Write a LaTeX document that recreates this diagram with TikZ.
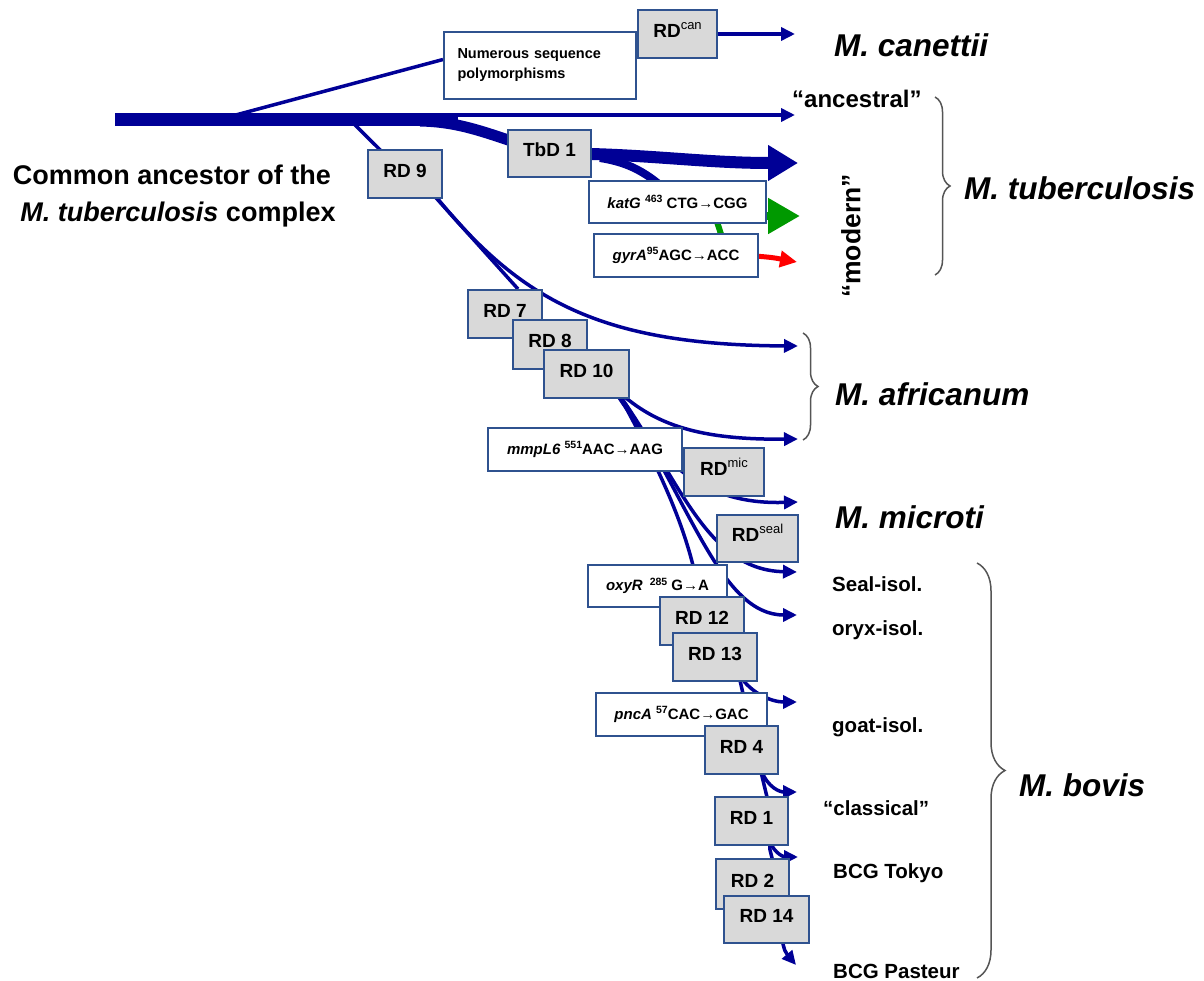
\documentclass[tikz,border=0pt]{standalone}
\usepackage{fontspec}
\setmainfont{Liberation Sans}
\usetikzlibrary{arrows.meta,decorations.pathreplacing}
\pgfdeclarelayer{bg}
\pgfsetlayers{bg,main}
\definecolor{lin}{RGB}{0,0,150}
\definecolor{bord}{RGB}{47,82,143}
\definecolor{boxfill}{RGB}{217,217,217}
\definecolor{grn}{RGB}{0,153,0}
\definecolor{bracec}{RGB}{85,85,85}
\newcommand\mysup[1]{\raisebox{5.5pt}{\fontsize{10.5}{10.5}\selectfont #1}}
\newcommand\rdsup[1]{\raisebox{8pt}{\fontsize{13}{13}\selectfont\mdseries #1}}
\begin{document}
\begin{tikzpicture}[x=1pt,y=-1pt,
 rdbox/.style={draw=bord,fill=boxfill,line width=2pt,inner sep=0pt,minimum width=#1,minimum height=48pt,text height=13.7pt,text depth=7pt,font=\fontsize{19}{19}\selectfont\bfseries},
 mbox/.style={draw=bord,fill=white,line width=2pt,inner sep=0pt,minimum width=#1,minimum height=43pt,font=\fontsize{15}{15}\selectfont\bfseries},
 br/.style={draw=lin,line width=3.5pt},
 sa/.style={-{Triangle[length=14pt,width=13pt]}},
 spec/.style={font=\fontsize{31.5}{31.5}\selectfont\bfseries\itshape,anchor=base west,inner sep=0pt},
 isol/.style={font=\fontsize{20.5}{20.5}\selectfont\bfseries,anchor=base west,inner sep=0pt},
 qlbl/.style={font=\fontsize{24}{24}\selectfont\bfseries,inner sep=0pt},
 anc/.style={font=\fontsize{27}{27}\selectfont\bfseries,anchor=base,inner sep=0pt},
 brc/.style={draw=bracec,line width=1.5pt,decorate},
]
\useasboundingbox (0,0) rectangle (1204,981);

% boxes
\node[mbox=192pt,minimum height=67pt,align=left,text width=165pt,font=\fontsize{14.5}{20}\selectfont\bfseries] (numer) at (540,65.5) {Numerous sequence\\polymorphisms};
\node[rdbox=79pt] (rdcan) at (677.5,34) {RD\rdsup{can}};
\node[rdbox=74pt] (rd9) at (405,174.5) {RD 9};
\node[rdbox=83pt,minimum height=47pt] (tbd1) at (549.5,153.5) {TbD 1};
\node[mbox=177pt,minimum height=42pt] (katg) at (677.5,202) {\textit{katG} \mysup{463} CTG→CGG};
\node[mbox=164pt] (gyra) at (676,255.5) {\textit{gyrA}\mysup{95}AGC→ACC};
\node[rdbox=74pt] (rd7) at (505,314) {RD 7};
\node[rdbox=74pt] (rd8) at (550,344.5) {RD 8};
\node[rdbox=85pt] (rd10) at (586.5,374) {RD 10};
\node[mbox=194pt] (mmpl6) at (585,449.5) {\textit{mmpL6} \mysup{551}AAC→AAG};
\node[rdbox=80pt] (rdmic) at (724,472) {RD\rdsup{mic}};
\node[rdbox=81pt,minimum height=47pt] (rdseal) at (757.5,538.5) {RD\rdsup{seal}};
\node[mbox=139pt,minimum height=42pt] (oxyr) at (657.5,586) {\textit{oxyR}\hspace{7pt}\mysup{285} G→A};
\node[rdbox=84pt] (rd12) at (702,621) {RD 12};
\node[rdbox=84pt] (rd13) at (715,657) {RD 13};
\node[mbox=171pt] (pnca) at (681.5,714.5) {\textit{pncA} \mysup{57}CAC→GAC};
\node[rdbox=73pt] (rd4) at (741.5,750) {RD 4};
\node[rdbox=73pt] (rd1) at (751.5,821) {RD 1};
\node[rdbox=73pt,minimum height=50pt] (rd2) at (752.5,884) {RD 2};
\node[rdbox=85pt,minimum height=47pt] (rd14) at (766.5,919.5) {RD 14};

% labels
\node[anc] (anc1) at (172,185) {Common ancestor of the};
\node[anc] (anc2) at (178,222) {\textit{M. tuberculosis} complex};
\node[spec] (lcan) at (834,57) {M. canettii};
\node[qlbl,anchor=base west] (lanc) at (792,108) {“ancestral”};
\node[spec] (ltb) at (964,200) {M. tuberculosis};
\node[qlbl,rotate=90,font=\fontsize{26.5}{26.5}\selectfont\bfseries] (lmod) at (851,236) {“modern”};
\node[spec] (laf) at (835,405) {M. africanum};
\node[spec] (lmic) at (835,528) {M. microti};
\node[isol] (lseal) at (832,591) {Seal-isol.};
\node[isol] (loryx) at (832,635) {oryx-isol.};
\node[isol] (lgoat) at (832,732) {goat-isol.};
\node[isol] (lclass) at (823,815) {“classical”};
\node[isol] (ltok) at (833,878) {BCG Tokyo};
\node[isol] (lpast) at (833,978) {BCG Pasteur};
\node[spec] (lbov) at (1019,796) {M. bovis};

% coordinates
\coordinate (root) at (115,120);
\coordinate (trunkend) at (458,120);
\coordinate (bcan) at (232,116);
\coordinate (banc) at (440,115);
\coordinate (bmod) at (420,121);
\coordinate (bkat) at (600,158);
\coordinate (b9) at (352,122);
\coordinate (tcan) at (795,34);
\coordinate (tanc) at (795,115);
\coordinate (tmod) at (798,163);
\coordinate (tkat) at (800,216);
\coordinate (tgyr) at (797,262);
\coordinate (taf1) at (798,346);
\coordinate (taf2) at (798,439);
\coordinate (tmic) at (798,502);
\coordinate (tseal) at (797,572);
\coordinate (toryx) at (797,615);
\coordinate (tgoat) at (797,702);
\coordinate (tclass) at (797,792);
\coordinate (ttok) at (798,857);
\coordinate (tpast) at (796,965);

\begin{pgfonlayer}{bg}
% trunk
\draw[draw=lin,line width=13pt] (root) -- (trunkend);
% canettii
\draw[br] (bcan) -- ([yshift=6pt]numer.west);
\draw[br,sa] (rdcan.east) -- (tcan);
% ancestral
\draw[br,sa] (banc) -- (tanc);
% modern
\draw[draw=lin,line width=11pt] (bmod) .. controls (465,122) and (490,135) .. (tbd1.center);
\draw[draw=lin,line width=12pt,-{Triangle[length=30pt,width=34pt]}] (tbd1.center) .. controls (640,153) and (700,163) .. (tmod);
\draw[draw=lin,line width=8pt] (bkat) .. controls (625,162) and (648,170) .. (katg.center);
\draw[draw=grn,line width=6pt] ([xshift=33pt]katg.center) -- ([xshift=52pt]gyra.center);
\draw[draw=grn,line width=8pt,-{Triangle[length=32pt,width=34pt]}] ([xshift=60pt,yshift=-14pt]katg.center) -- (tkat);
\draw[draw=red,line width=5pt,-{Triangle[length=17pt,width=16pt]}] ([xshift=60pt]gyra.center) .. controls (770,256) and (780,259) .. (tgyr);
% RD9 lineage
\draw[br] (b9) -- (rd9.center);
\draw[br,sa] ([xshift=-8pt,yshift=4pt]rd9.south east) .. controls (520,300) and (600,345) .. (taf1);
\draw[br] ([xshift=-10pt,yshift=5pt]rd9.south east) -- ([xshift=-25pt]rd7.north east);
\draw[br] (rd7.center) -- (rd8.center) -- (rd10.center);
\draw[br,sa] ([xshift=-12pt,yshift=8pt]rd10.south east) .. controls (655,425) and (700,440) .. (taf2);
\draw[br,sa] ([xshift=-14pt,yshift=6pt]rd10.south east) .. controls (660,460) and (700,505) .. (tmic);
\draw[br] ([xshift=-12pt,yshift=6pt]rd10.south east) .. controls (660,470) and (697,545) .. (rd12.center);
\draw[br,sa] ([xshift=-12pt,yshift=6pt]rd10.south east) .. controls (680,480) and (706,570) .. (tseal);
\draw[br,sa] ([xshift=-12pt,yshift=6pt]rd10.south east) .. controls (690,500) and (720,615) .. (toryx);
% lower lineage
\draw[br,sa] (rd12.center) -- (739,676) -- (744,698) -- (760,768) -- (767,797) -- (770,850) -- (773,862) -- (781,936) .. controls (785,952) .. (tpast);
\draw[br,sa] (740,676) .. controls (752,694) and (772,702) .. (tgoat);
\draw[br,sa] (761,770) .. controls (768,788) and (780,792) .. (tclass);
\draw[br,sa] (769,840) .. controls (775,855) and (785,857) .. (ttok);
\end{pgfonlayer}

% braces
\draw[brc,decoration={brace,amplitude=15pt}] (935,97) -- (935,275);
\draw[brc,decoration={brace,amplitude=15pt}] (803,333) -- (803,440);
\draw[brc,decoration={brace,amplitude=28pt}] (977,563) -- (977,978);
\end{tikzpicture}
\end{document}
